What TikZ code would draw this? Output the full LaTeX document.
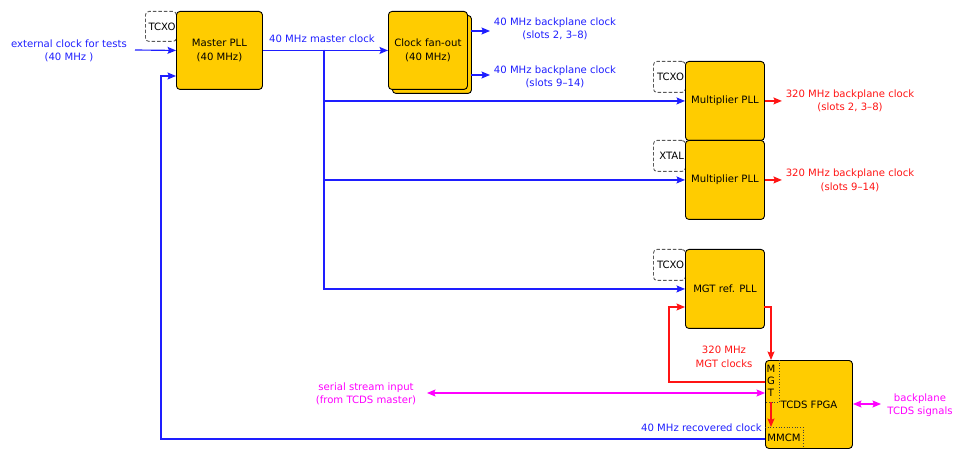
\documentclass[tikz,border=0pt]{standalone}
\usepackage{fontspec}
\setmainfont{DejaVu Sans}
\usetikzlibrary{arrows.meta,calc}
\definecolor{gold}{RGB}{255,204,0}
\definecolor{cblue}{RGB}{30,30,255}
\definecolor{cred}{RGB}{255,20,20}
\definecolor{cmag}{RGB}{255,0,255}
\begin{document}
\begin{tikzpicture}[x=1pt,y=-1pt,
  every node/.style={font=\fontsize{10.1}{13.5}\selectfont, inner sep=0pt},
  blk/.style={draw=black, line width=0.9pt, fill=gold, rounded corners=3.5pt, anchor=north west, align=center},
  osc/.style={draw=black!65, dash pattern=on 3.5pt off 2pt, line width=0.9pt, rounded corners=3.5pt, anchor=north west,
              align=right, text width=29pt, inner sep=1pt},
  lbl/.style={align=center},
  tip/.style={-{Stealth[length=8.5pt,width=7pt,inset=1.5pt]}},
  dtip/.style={{Stealth[length=8.5pt,width=7pt,inset=1.5pt]}-{Stealth[length=8.5pt,width=7pt,inset=1.5pt]}},
  bw/.style={draw=cblue, line width=1.15pt},
  rw/.style={draw=cred, line width=1.15pt},
  mw/.style={draw=cmag, line width=1.15pt},
  sub/.style={draw=black!75, dotted, line width=0.7pt}]
\useasboundingbox (0,0) rectangle (954,449);

% oscillators
\node[osc, minimum width=31pt, minimum height=30pt] (osc0) at (145,11) {TCXO};
\node[osc, minimum width=32pt, minimum height=31pt] (osc1) at (653,61) {TCXO};
\node[osc, minimum width=32pt, minimum height=31pt] (osc2) at (653,140) {XTAL};
\node[osc, minimum width=32pt, minimum height=31pt] (osc3) at (653,249) {TCXO};

% blocks
\node[blk, minimum width=86pt, minimum height=78pt] (master) at (176,11) {Master PLL\\(40 MHz)};
\node[blk, minimum width=79pt, minimum height=78pt] (fanoutB) at (392,15) {};
\node[blk, minimum width=79pt, minimum height=78pt] (fanout) at (388,11) {Clock fan-out\\(40 MHz)};
\node[blk, minimum width=79pt, minimum height=79pt] (mult1) at (685,61) {Multiplier PLL};
\node[blk, minimum width=79pt, minimum height=79pt] (mult2) at (685,140) {Multiplier PLL};
\node[blk, minimum width=79pt, minimum height=79pt] (mgtpll) at (685,249) {MGT ref. PLL};
\node[blk, minimum width=87pt, minimum height=88pt] (fpga) at (765,360) {};
\node (fpgatxt) at (809,405) {TCDS FPGA};
\node[align=center, font=\fontsize{10.1}{12}\selectfont] (mgt) at (771,381) {M\\G\\T};
\node (mmcm) at (784,438) {MMCM};
\coordinate (mgtc) at (779,360);
\coordinate (mgtd) at (779,402);
\coordinate (mgte) at (765,402);
\coordinate (mmcmc) at (765,427);
\coordinate (mmcmd) at (803,427);
\coordinate (mmcme) at (803,448);
\draw[sub] (mgtc) -- (mgtd) -- (mgte);
\draw[sub] (mmcmc) -- (mmcmd) -- (mmcme);

% labels
\node[lbl, text=cblue] (ext) at (69,51) {external clock for tests\\(40 MHz )};
\node[lbl, text=cblue] (mclk) at (322,39) {40 MHz master clock};
\node[lbl, text=cblue] (bp1) at (555,29) {40 MHz backplane clock\\(slots 2, 3--8)};
\node[lbl, text=cblue] (bp2) at (555,77) {40 MHz backplane clock\\(slots 9--14)};
\node[lbl, text=cred] (r1) at (850,101) {320 MHz backplane clock\\(slots 2, 3--8)};
\node[lbl, text=cred] (r2) at (850,180.5) {320 MHz backplane clock\\(slots 9--14)};
\node[lbl, text=cred] (mgtclk) at (724,357) {320 MHz\\MGT clocks};
\node[lbl, text=cmag] (serial) at (366,394) {serial stream input\\(from TCDS master)};
\node[lbl, text=cmag] (bpt) at (920,405) {backplane\\TCDS signals};
\node[text=cblue, anchor=east] (rec) at (762,428) {40 MHz recovered clock};

% coordinates
\coordinate (br) at (324,50);
\coordinate (fb1) at (471,31);
\coordinate (fb1e) at (490,31);
\coordinate (fb2) at (471,75);
\coordinate (fb2e) at (490,75);
\coordinate (rin) at (685,307);
\coordinate (rout) at (764,307);
\coordinate (rturn) at (771,307);
\coordinate (rfpga) at (771,360);
\coordinate (rleft) at (765,382);
\coordinate (rcorner) at (669,382);
\coordinate (serl) at (427,393);
\coordinate (serr) at (765,393);
\coordinate (bpl) at (853,404);
\coordinate (bpr) at (881,404);
\coordinate (recl) at (765,439);
\coordinate (recc) at (161,439);
\coordinate (recin) at (176,76);
\coordinate (extl) at (135,50);

% blue connectors
\draw[bw, tip] (extl) -- (master.west);
\draw[bw, tip] (master.east) -- (fanout.west);
\draw[bw, tip] (br) |- (mult1.west);
\draw[bw, tip] (br) |- (mult2.west);
\draw[bw, tip] (br) |- (mgtpll.west);
\draw[bw, tip] (fb1) -- (fb1e);
\draw[bw, tip] (fb2) -- (fb2e);
\draw[bw, tip] (recl) -- (recc) |- (recin);

% red connectors
\draw[rw, tip] (mult1.east) -- ++(17,0) coordinate (r1a);
\draw[rw, tip] (mult2.east) -- ++(17,0) coordinate (r2a);
\draw[rw, tip] (rout) -- (rturn) -- (rfpga);
\draw[rw, tip] (rleft) -- (rcorner) |- (rin);
\draw[rw, tip] (mgtd -| rfpga) -- (mmcmc -| rfpga);

% magenta connectors
\draw[mw, dtip] (serl) -- (serr);
\draw[mw, dtip] (bpl) -- (bpr);
\end{tikzpicture}
\end{document}
